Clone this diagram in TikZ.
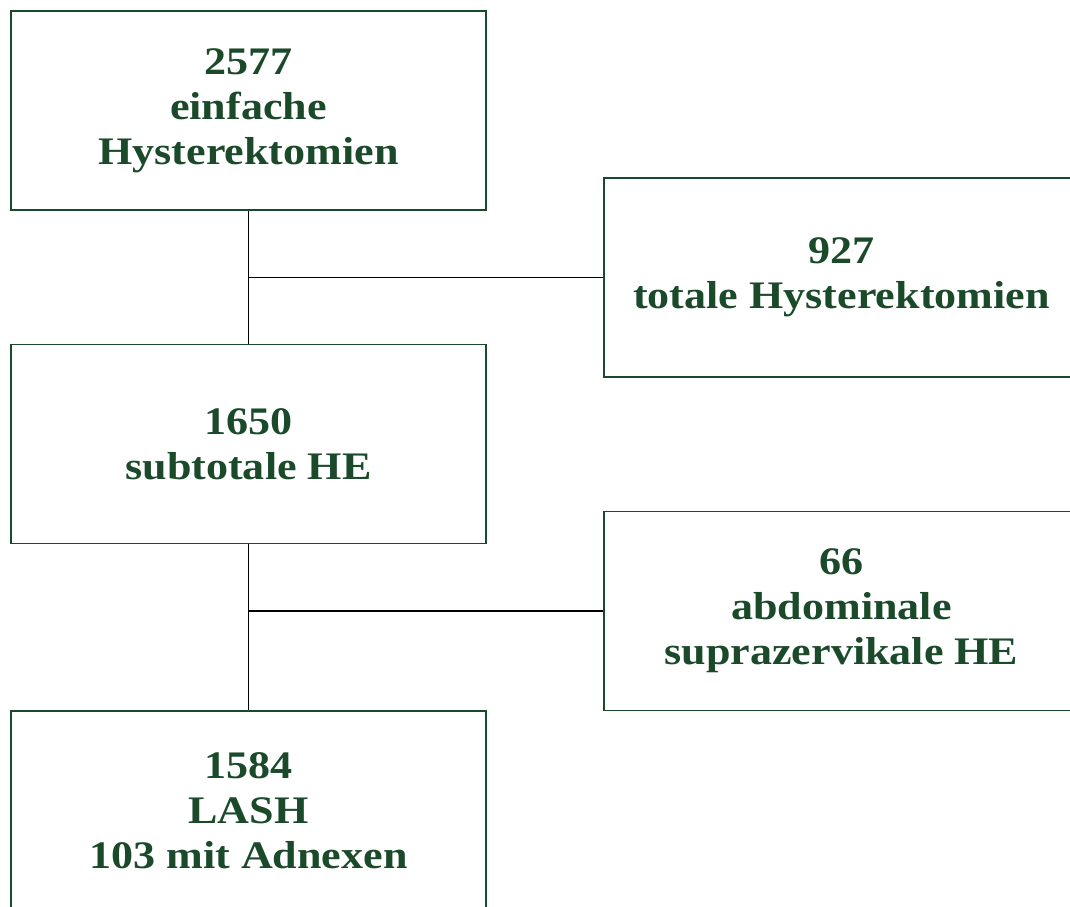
\documentclass[tikz,border=0pt]{standalone}
\usepackage{fontspec}
\setmainfont{Liberation Serif}[FakeStretch=1.13]
\definecolor{dunkelgruen}{HTML}{1A4A2A}
\tikzset{
  kasten/.style={draw=dunkelgruen, line width=1.6pt, minimum width=475pt, minimum height=199pt,
    align=center, text=dunkelgruen, font=\fontsize{39}{45}\selectfont\bfseries},
  linie/.style={draw=black, line width=1.3pt}
}
\begin{document}
\begin{tikzpicture}[x=1pt,y=-1pt]

                  % Rahmen
                  \useasboundingbox (0,0) rectangle (1070,906);
                  \clip (0,0) rectangle (1070,906);

                  % Kaesten
                  \node[kasten] (einfach) at (248.5,110.5) {2577\\einfache\\Hysterektomien};
                  \node[kasten] (total) at (841.5,277.5) {927\\totale Hysterektomien};
                  \node[kasten] (subtotal) at (248.5,444) {1650\\subtotale HE};
                  \node[kasten] (abdominal) at (841.5,611) {66\\abdominale\\suprazervikale HE};
                  \node[kasten] (lash) at (248.5,810.5) {1584\\LASH\\103 mit Adnexen};

                  % Verbindungen
                  \coordinate (abzweig1) at (248.5,277.5);
                  \coordinate (abzweig2) at (248.5,611);
                  \draw[linie] (einfach) -- (subtotal);
                  \draw[linie] (abzweig1) -- (total.west);
                  \draw[linie] (subtotal) -- (lash);
                  \draw[linie] (abzweig2) -- (abdominal.west);
\end{tikzpicture}
\end{document}
